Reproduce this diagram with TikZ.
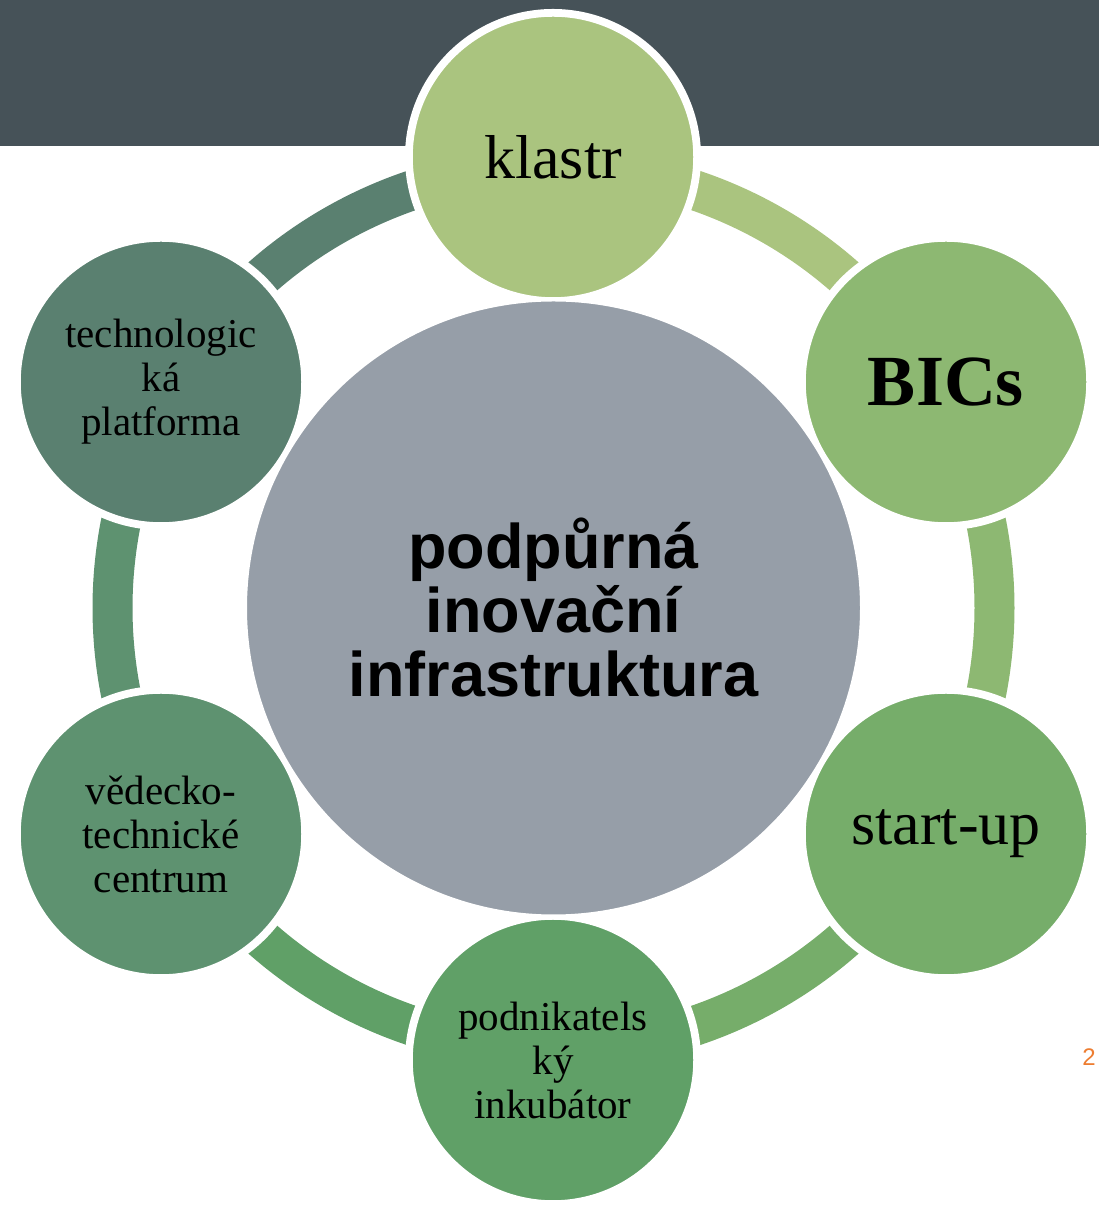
\documentclass[tikz,border=0pt]{standalone}
\usepackage{fontspec}
\setmainfont{Liberation Serif}
\newfontfamily\centerfont{Liberation Sans}
\definecolor{banner}{RGB}{70,82,88}
\definecolor{hubgray}{RGB}{150,158,168}
\definecolor{cA}{RGB}{170,196,127}
\definecolor{cB}{RGB}{141,184,114}
\definecolor{cC}{RGB}{118,173,106}
\definecolor{cD}{RGB}{96,160,103}
\definecolor{cE}{RGB}{94,146,112}
\definecolor{cF}{RGB}{90,128,112}
\definecolor{pagenum}{RGB}{237,125,49}
\begin{document}
\begin{tikzpicture}[x=1pt,y=1pt,
  outer/.style={circle, minimum size=284pt, inner sep=0pt, draw=white, line width=3.5pt, align=center, text=black},
  halo/.style={fill=white},
  ringarc/.style={line width=40pt},
  hub/.style={circle, minimum size=616pt, inner sep=0pt, fill=hubgray, draw=white, line width=3pt, align=center,
    font=\centerfont\bfseries\fontsize{63}{64}\selectfont},
  smalltext/.style={font=\fontsize{41}{44}\selectfont},
  bigtext/.style={font=\fontsize{62}{66}\selectfont}
]
\useasboundingbox (0,0) rectangle (1099,1207);
\fill[banner] (0,1061) rectangle (1099,1207);
% positions
\coordinate (c) at (553.5,599);
\coordinate (pk) at (553,1050);
\coordinate (pb) at (946,825);
\coordinate (ps) at (946,373);
\coordinate (pi) at (553,147);
\coordinate (pv) at (161,373);
\coordinate (pt) at (161,825);
% ring arcs
\draw[ringarc, cA] (c) ++(90:441) arc[start angle=90, end angle=30, radius=441];
\draw[ringarc, cB] (c) ++(30:441) arc[start angle=30, end angle=-30, radius=441];
\draw[ringarc, cC] (c) ++(-30:441) arc[start angle=-30, end angle=-90, radius=441];
\draw[ringarc, cD] (c) ++(-90:441) arc[start angle=-90, end angle=-150, radius=441];
\draw[ringarc, cE] (c) ++(-150:441) arc[start angle=-150, end angle=-210, radius=441];
\draw[ringarc, cF] (c) ++(150:441) arc[start angle=150, end angle=90, radius=441];
% white halos cutting the ring
\foreach \p in {pk,pb,ps,pi,pv,pt} \fill[halo] (\p) circle (148);
% hub
\node[hub] (hub) at (c) {podpůrná\\inovační\\infrastruktura};
% outer nodes
\node[outer, fill=cA, bigtext] (klastr) at (pk) {klastr};
\node[outer, fill=cB, font=\bfseries\fontsize{72}{76}\selectfont] (bics) at (pb) {BICs};
\node[outer, fill=cC, bigtext] (startup) at (ps) {start-up};
\node[outer, fill=cD, smalltext] (inkub) at (pi) {podnikatels\\ký\\inkubátor};
\node[outer, fill=cE, smalltext] (vtc) at (pv) {vědecko-\\technické\\centrum};
\node[outer, fill=cF, smalltext] (tp) at (pt) {technologic\\ká\\platforma};
% page number
\node[text=pagenum, font=\centerfont\fontsize{24}{26}\selectfont] (num) at (1089,150) {2};
\end{tikzpicture}
\end{document}
